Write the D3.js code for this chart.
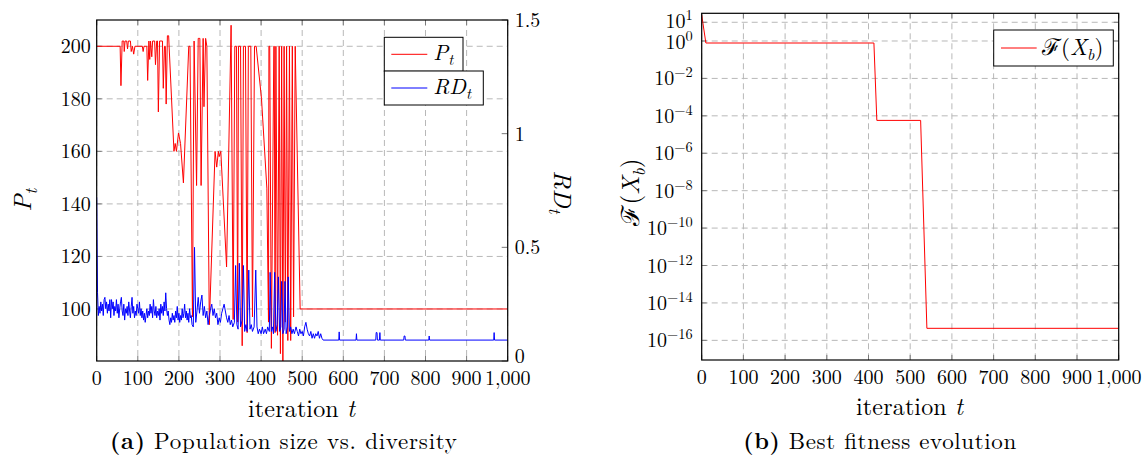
<!DOCTYPE html>
<html>
<head>
<meta charset="utf-8">
<script src="https://cdn.jsdelivr.net/npm/d3@7"></script>
<style>
  body { margin: 0; background: #fff; }
</style>
</head>
<body>
<svg id="fig" width="1146" height="456"></svg>
<script>
// population size P_t (iteration, value)
const popIter = [0, 57, 59, 62, 66, 67, 69, 73, 75, 77, 82, 84, 87, 90, 93, 111, 113, 115, 122, 124,
  127, 129, 131, 134, 136, 141, 143, 146, 148, 150, 153, 160, 162, 165, 167, 169, 172, 175, 188, 191,
  194, 199, 204, 211, 224, 227, 233, 237, 243, 247, 251, 254, 259, 261, 265, 268, 274, 288, 292, 296,
  298, 302, 316, 327, 332, 336, 340, 343, 345, 350, 354, 357, 362, 366, 369, 375, 379, 384, 388, 401,
  414, 418, 419, 421, 425, 431, 432, 434, 436, 440, 444, 447, 450, 453, 456, 459, 462, 465, 469, 472,
  476, 479, 483, 495, 1000]
const popSize = [200, 200, 185, 202, 202, 198, 202, 202, 199, 202, 202, 198, 200, 197, 200, 200, 198, 200, 200, 187,
  202, 195, 202, 196, 202, 202, 193, 202, 202, 175, 202, 202, 184, 200, 200, 178, 204, 204, 160, 163,
  160, 167, 163, 148, 200, 200, 97, 202, 147, 203, 203, 147, 203, 177, 203, 200, 94, 160, 154, 160,
  158, 160, 116, 208, 96, 200, 200, 95, 200, 200, 86, 200, 200, 91, 200, 200, 97, 200, 200, 180,
  146, 95, 200, 200, 85, 200, 200, 91, 200, 90, 200, 83, 200, 80, 200, 95, 200, 88, 200, 88,
  200, 97, 200, 100, 100]

// relative diversity RD_t as [iteration, value]
const rdPoints = [
  [0, .72], [2, .30], [4, .20], [6, .24], [8, .21], [10, .26], [12, .22], [14, .25], [16, .20], [18, .27],
  [20, .28], [22, .23], [24, .26], [26, .21], [28, .25], [30, .22], [32, .27], [34, .19], [36, .27], [38, .23],
  [40, .26], [42, .20], [44, .24], [46, .22], [48, .27], [50, .21], [52, .25], [54, .19], [56, .23], [58, .26],
  [60, .28], [62, .22], [64, .20], [66, .25], [68, .18], [70, .23], [72, .21], [74, .24], [76, .20], [78, .26],
  [80, .22], [82, .19], [84, .24], [86, .28], [88, .21], [90, .24], [92, .19], [94, .22], [96, .20], [98, .25],
  [100, .23], [102, .21], [104, .26], [106, .20], [108, .23], [110, .19], [112, .22], [114, .18], [116, .21], [118, .17],
  [120, .20], [122, .23], [124, .19], [126, .22], [128, .20], [130, .25], [132, .21], [134, .24], [136, .19], [138, .27],
  [140, .22], [142, .20], [144, .24], [146, .19], [148, .22], [150, .20], [152, .23], [154, .18], [156, .25], [158, .21],
  [160, .24], [162, .20], [164, .26], [166, .22], [168, .30], [170, .23], [172, .20], [174, .22], [176, .18], [178, .16],
  [180, .19], [182, .17], [184, .21], [186, .18], [188, .20], [190, .17], [192, .22], [194, .19], [196, .24], [198, .18],
  [200, .21], [202, .17], [204, .20], [206, .18], [208, .23], [210, .19], [212, .21], [214, .25], [216, .19], [218, .22],
  [220, .18], [222, .21], [224, .17], [226, .23], [228, .19], [230, .20], [232, .16], [235, .15], [238, .50], [241, .17],
  [244, .22], [247, .28], [250, .21], [253, .26], [256, .29], [259, .20], [262, .24], [265, .19], [268, .22], [271, .16],
  [274, .20], [277, .23], [280, .25], [283, .20], [286, .23], [289, .19], [292, .21], [295, .16], [298, .19], [301, .17],
  [304, .21], [307, .23], [310, .25], [313, .22], [316, .19], [319, .17], [322, .20], [325, .16], [328, .18], [331, .15],
  [335, .17], [338, .42], [341, .16], [344, .14], [347, .43], [350, .15], [354, .18], [357, .42], [360, .13], [363, .16],
  [366, .13], [370, .40], [373, .14], [376, .16], [379, .13], [383, .15], [387, .40], [390, .15], [393, .12], [396, .14],
  [400, .12], [403, .15], [406, .12], [410, .14], [413, .12], [416, .15], [420, .13], [422, .39], [425, .13], [428, .15],
  [430, .12], [433, .39], [436, .13], [439, .16], [442, .37], [445, .13], [448, .15], [450, .35], [453, .12], [456, .14],
  [458, .35], [461, .12], [464, .15], [466, .37], [469, .13], [472, .15], [475, .12], [478, .14], [481, .12], [485, .15],
  [488, .13], [491, .11], [494, .14], [497, .12], [500, .13], [503, .11], [506, .15], [509, .17], [512, .14], [515, .12],
  [518, .11], [521, .13], [524, .10], [527, .12], [530, .10], [533, .12], [536, .11], [539, .13], [542, .10], [545, .12],
  [548, .10], [551, .092], [589, .092], [590, .128], [591, .092], [631, .092], [632, .12], [633, .092], [679, .092], [680, .125],
  [682, .125], [683, .092], [688, .092], [689, .125], [690, .092], [747, .092], [748, .11], [750, .11], [751, .092], [808, .092],
  [809, .11], [810, .092], [966, .092], [967, .125], [968, .092], [1000, .092]
]

// best fitness F(X_b)
const fitIter = [0, 10, 413, 420, 525, 540, 1000]
const fitVal = [25, 0.78, 0.78, 5.7e-5, 5.7e-5, 4.4e-16, 4.4e-16]

const iterTicks = [0, 100, 200, 300, 400, 500, 600, 700, 800, 900, 1000]
const popTicks = [100, 120, 140, 160, 180, 200]
const rdTicks = [0, 0.5, 1, 1.5]
const fitExp = [1, 0, -2, -4, -6, -8, -10, -12, -14, -16]

const svg = d3.select('#fig')
const fmtIter = d3.format(',')
const gridCol = '#b8b8b8'
const tickCol = '#7a7a7a'
const fontFam = "'Latin Modern Roman', 'Liberation Serif', serif"

// writes text made of parts: [string, kind] where kind is '', 'i', 'b', 'sub', 'sup'
const mathText = (sel, parts, size) => {
  let shift = 0
  parts.forEach(p => {
    const t = sel.append('tspan').text(p[0])
    const kind = p[1] || ''
    let dy = -shift
    shift = 0
    if (kind == 'i') t.attr('font-style', 'italic')
    if (kind == 'b') t.attr('font-weight', 'bold')
    if (kind == 'sub') {
      t.attr('font-style', 'italic').attr('font-size', size * 0.7)
      shift = size * 0.22
    }
    if (kind == 'sup') {
      t.attr('font-size', size * 0.72)
      shift = -size * 0.4
    }
    dy += shift
    if (dy != 0) t.attr('dy', dy)
  })
  return sel
}

const drawFrame = (g, box, xScale, yTicks, yScale, leftTicks, rightTicks) => {
  // grid
  g.selectAll('.vgrid').data(iterTicks).enter().append('line')
    .attr('x1', d => xScale(d)).attr('x2', d => xScale(d))
    .attr('y1', box.top).attr('y2', box.bottom)
    .attr('stroke', gridCol).attr('stroke-dasharray', '6,4')
  g.selectAll('.hgrid').data(yTicks).enter().append('line')
    .attr('x1', box.left).attr('x2', box.right)
    .attr('y1', d => yScale(d)).attr('y2', d => yScale(d))
    .attr('stroke', gridCol).attr('stroke-dasharray', '6,4')
  // x ticks inside, top and bottom
  iterTicks.forEach(d => {
    g.append('line').attr('x1', xScale(d)).attr('x2', xScale(d))
      .attr('y1', box.bottom).attr('y2', box.bottom - 5).attr('stroke', tickCol)
    g.append('line').attr('x1', xScale(d)).attr('x2', xScale(d))
      .attr('y1', box.top).attr('y2', box.top + 5).attr('stroke', tickCol)
  })
  if (leftTicks) yTicks.forEach(d => {
    g.append('line').attr('x1', box.left).attr('x2', box.left + 5)
      .attr('y1', yScale(d)).attr('y2', yScale(d)).attr('stroke', tickCol)
  })
  if (rightTicks) yTicks.forEach(d => {
    g.append('line').attr('x1', box.right).attr('x2', box.right - 5)
      .attr('y1', yScale(d)).attr('y2', yScale(d)).attr('stroke', tickCol)
  })
  // x tick labels
  g.selectAll('.xlab').data(iterTicks).enter().append('text')
    .attr('x', d => xScale(d)).attr('y', box.bottom + 24)
    .attr('text-anchor', 'middle').attr('font-size', 20)
    .text(d => fmtIter(d))
}

const drawBorder = (g, box) => {
  g.append('rect').attr('x', box.left).attr('y', box.top)
    .attr('width', box.right - box.left).attr('height', box.bottom - box.top)
    .attr('fill', 'none').attr('stroke', '#000').attr('stroke-width', 1.2)
}

// ---------- panel (a) ----------
const boxA = { left: 96.7, right: 507.7, top: 20, bottom: 361 }
const xA = d3.scaleLinear().domain([0, 1000]).range([boxA.left, boxA.right])
const yP = d3.scaleLinear().domain([80.2, 210]).range([boxA.bottom, boxA.top])
const yRD = d3.scaleLinear().domain([0, 1.5]).range([boxA.bottom, boxA.top])

const gA = svg.append('g')
drawFrame(gA, boxA, xA, popTicks, yP, true, false)
rdTicks.forEach(d => {
  gA.append('line').attr('x1', boxA.right).attr('x2', boxA.right - 6)
    .attr('y1', yRD(d)).attr('y2', yRD(d)).attr('stroke', tickCol)
})

gA.selectAll('.plab').data(popTicks).enter().append('text')
  .attr('x', boxA.left - 6).attr('y', d => yP(d) + 7)
  .attr('text-anchor', 'end').attr('font-size', 20).text(d => d)
gA.selectAll('.rlab').data(rdTicks).enter().append('text')
  .attr('x', boxA.right + 7).attr('y', d => yRD(d) + (d == 0 ? 2 : 7))
  .attr('font-size', 20).text(d => d)

svg.append('clipPath').attr('id', 'clipA').append('rect')
  .attr('x', boxA.left).attr('y', boxA.top)
  .attr('width', boxA.right - boxA.left).attr('height', boxA.bottom - boxA.top)

const popLine = d3.line().x((d, i) => xA(popIter[i])).y(d => yP(d))
const rdLine = d3.line().x(d => xA(d[0])).y(d => yRD(d[1]))

gA.append('path').datum(popSize).attr('d', popLine)
  .attr('fill', 'none').attr('stroke', '#ff0000').attr('stroke-width', 1)
  .attr('clip-path', 'url(#clipA)')
gA.append('path').datum(rdPoints).attr('d', rdLine)
  .attr('fill', 'none').attr('stroke', '#0000ff').attr('stroke-width', 1)
  .attr('clip-path', 'url(#clipA)')
drawBorder(gA, boxA)

// legend (a)
const legA = [
  { parts: [['P', 'i'], ['t', 'sub']], col: '#ff0000', x: 384.3, y: 37.3, w: 78.7 },
  { parts: [['RD', 'i'], ['t', 'sub']], col: '#0000ff', x: 384.3, y: 71, w: 99 }
]
legA.forEach(l => {
  gA.append('rect').attr('x', l.x).attr('y', l.y).attr('width', l.w).attr('height', 34)
    .attr('fill', '#fff').attr('stroke', '#000').attr('stroke-width', 1)
  gA.append('line').attr('x1', l.x + 7).attr('x2', l.x + 43)
    .attr('y1', l.y + 17).attr('y2', l.y + 17).attr('stroke', l.col)
  mathText(gA.append('text').attr('x', l.x + 49).attr('y', l.y + 23).attr('font-size', 22), l.parts, 22)
})

// axis labels (a)
mathText(svg.append('text').attr('transform', 'translate(31,200) rotate(-90)')
  .attr('text-anchor', 'middle').attr('font-size', 25), [['P', 'i'], ['t', 'sub']], 25)
mathText(svg.append('text').attr('transform', 'translate(554,192) rotate(90)')
  .attr('text-anchor', 'middle').attr('font-size', 25), [['RD', 'i'], ['t', 'sub']], 25)
mathText(svg.append('text').attr('x', 248).attr('y', 417).attr('font-size', 24)
  .attr('textLength', 107).attr('lengthAdjust', 'spacing'), [['iteration '], ['t', 'i']], 24)
mathText(svg.append('text').attr('x', 110).attr('y', 449).attr('font-size', 23)
  .attr('textLength', 347).attr('lengthAdjust', 'spacing'),
  [['(a)', 'b'], ['  Population size vs. diversity']], 23)

// ---------- panel (b) ----------
const boxB = { left: 701.7, right: 1118.7, top: 13.3, bottom: 360 }
const xB = d3.scaleLinear().domain([0, 1000]).range([boxB.left, boxB.right])
const yF = d3.scaleLog().domain([Math.pow(10, -17.05), Math.pow(10, 1.48)]).range([boxB.bottom, boxB.top])
const fitTicks = fitExp.map(e => Math.pow(10, e))

const gB = svg.append('g')
drawFrame(gB, boxB, xB, fitTicks, yF, true, true)

fitExp.forEach(e => {
  const t = gB.append('text').attr('x', boxB.left - 9)
    .attr('y', yF(Math.pow(10, e)) + (e == 0 ? 8 : e == 1 ? 6 : 7))
    .attr('text-anchor', 'end').attr('font-size', 20)
  mathText(t, [['10'], [(e < 0 ? '\u2212' : '') + Math.abs(e), 'sup']], 20)
})

svg.append('clipPath').attr('id', 'clipB').append('rect')
  .attr('x', boxB.left).attr('y', boxB.top)
  .attr('width', boxB.right - boxB.left).attr('height', boxB.bottom - boxB.top)

const fitLine = d3.line().x((d, i) => xB(fitIter[i])).y(d => yF(d))
gB.append('path').datum(fitVal).attr('d', fitLine)
  .attr('fill', 'none').attr('stroke', '#ff0000').attr('stroke-width', 1)
  .attr('clip-path', 'url(#clipB)')
drawBorder(gB, boxB)

// legend (b)
gB.append('rect').attr('x', 993.7).attr('y', 30).attr('width', 119.6).attr('height', 36)
  .attr('fill', '#fff').attr('stroke', '#000').attr('stroke-width', 1)
gB.append('line').attr('x1', 1001).attr('x2', 1036.7).attr('y1', 48).attr('y2', 48).attr('stroke', '#ff0000')
mathText(gB.append('text').attr('x', 1042).attr('y', 55).attr('font-size', 23),
  [['\u2131'], ['('], ['X', 'i'], ['b', 'sub'], [')']], 23)

// axis labels (b)
mathText(svg.append('text').attr('transform', 'translate(639,192) rotate(-90)')
  .attr('text-anchor', 'middle').attr('font-size', 25),
  [['\u2131'], ['('], ['X', 'i'], ['b', 'sub'], [')']], 25)
mathText(svg.append('text').attr('x', 856).attr('y', 415).attr('font-size', 24)
  .attr('textLength', 107).attr('lengthAdjust', 'spacing'), [['iteration '], ['t', 'i']], 24)
mathText(svg.append('text').attr('x', 743.3).attr('y', 449).attr('font-size', 23)
  .attr('textLength', 273).attr('lengthAdjust', 'spacing'),
  [['(b)', 'b'], ['  Best fitness evolution']], 23)

svg.selectAll('text').style('font-family', fontFam).attr('fill', '#000')
</script>
</body>
</html>
